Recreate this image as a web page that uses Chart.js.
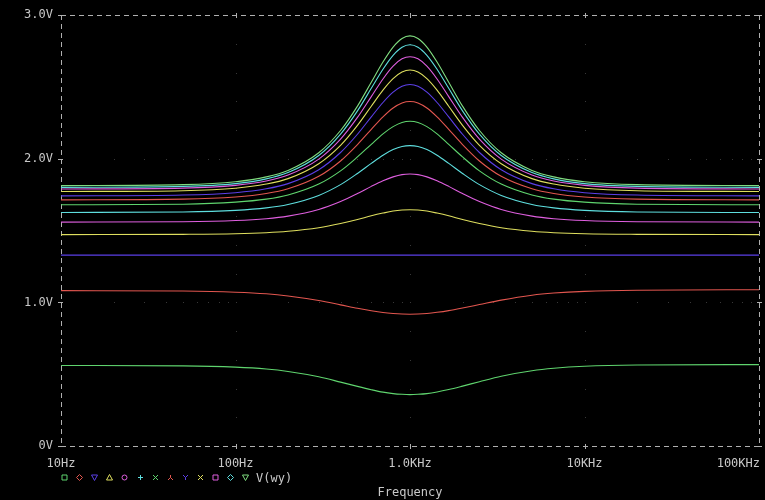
<!DOCTYPE html>
<html>
<head>
<meta charset="utf-8">
<script src="https://cdn.jsdelivr.net/npm/chart.js@4.4.1/dist/chart.umd.min.js"></script>
<style>
  html, body { margin: 0; padding: 0; background: #000; }
  #wrap { width: 765px; height: 500px; }
</style>
</head>
<body>
<div id="wrap"><canvas id="c" width="765" height="500"></canvas></div>
<script>
// ---- data ----
const freqHz = [10, 50, 100, 150, 200, 300, 400, 500, 600, 700, 800, 900, 1000,
                1111, 1250, 1429, 1667, 2000, 2500, 3333, 5000, 6667, 10000, 20000, 100000];

const tickFreqs = [10, 100, 1000, 10000, 100000];
const tickLabelsX = ['10Hz', '100Hz', '1.0KHz', '10KHz', '100KHz'];
const tickValuesY = [0, 1, 2, 3];
const tickLabelsY = ['0V', '1.0V', '2.0V', '3.0V'];
const legendLabel = 'V(wy)';
const axisTitle = 'Frequency';

const seriesColors = ['#5fd46e', '#e2564f', '#5b3fe6', '#dede5e', '#de5ede', '#5edede',
                      '#5fd46e', '#e2564f', '#5b3fe6', '#dede5e', '#de5ede', '#5edede', '#7fdc7f'];
const markerShapes = ['square', 'diamond', 'triDown', 'triUp', 'circle', 'plus', 'cross',
                      'lambda', 'ychar', 'xchar', 'square', 'diamond', 'triDown'];

const v01 = [0.561, 0.558, 0.549, 0.536, 0.519, 0.482, 0.445, 0.415, 0.392, 0.375, 0.365, 0.360, 0.358,
             0.360, 0.365, 0.376, 0.393, 0.417, 0.448, 0.486, 0.524, 0.541, 0.555, 0.564, 0.567];
const v02 = [1.082, 1.079, 1.071, 1.060, 1.045, 1.013, 0.983, 0.959, 0.942, 0.930, 0.923, 0.919, 0.918,
             0.919, 0.923, 0.931, 0.943, 0.961, 0.985, 1.016, 1.050, 1.065, 1.077, 1.085, 1.088];
const v03 = [1.329, 1.329, 1.329, 1.329, 1.329, 1.329, 1.329, 1.329, 1.329, 1.329, 1.329, 1.329, 1.329,
             1.329, 1.329, 1.329, 1.329, 1.329, 1.329, 1.329, 1.329, 1.329, 1.329, 1.329, 1.329];
const v04 = [1.472, 1.474, 1.478, 1.485, 1.495, 1.520, 1.549, 1.577, 1.603, 1.622, 1.636, 1.643, 1.645,
             1.643, 1.636, 1.622, 1.603, 1.577, 1.549, 1.520, 1.495, 1.485, 1.478, 1.474, 1.472];
const v05 = [1.559, 1.562, 1.570, 1.583, 1.601, 1.647, 1.702, 1.758, 1.808, 1.847, 1.874, 1.890, 1.894,
             1.890, 1.874, 1.847, 1.808, 1.758, 1.702, 1.647, 1.601, 1.583, 1.570, 1.562, 1.559];
const v06 = [1.626, 1.630, 1.641, 1.658, 1.682, 1.745, 1.820, 1.898, 1.968, 2.025, 2.064, 2.086, 2.092,
             2.086, 2.064, 2.025, 1.968, 1.898, 1.820, 1.745, 1.682, 1.658, 1.641, 1.630, 1.626];
const v07 = [1.680, 1.684, 1.698, 1.719, 1.748, 1.824, 1.916, 2.013, 2.101, 2.174, 2.224, 2.253, 2.261,
             2.253, 2.224, 2.174, 2.101, 2.013, 1.916, 1.824, 1.748, 1.719, 1.698, 1.684, 1.680];
const v08 = [1.714, 1.719, 1.734, 1.758, 1.791, 1.878, 1.985, 2.099, 2.205, 2.292, 2.354, 2.389, 2.399,
             2.389, 2.354, 2.292, 2.205, 2.099, 1.985, 1.878, 1.791, 1.758, 1.734, 1.719, 1.714];
const v09 = [1.742, 1.748, 1.764, 1.791, 1.827, 1.924, 2.044, 2.171, 2.292, 2.392, 2.464, 2.505, 2.517,
             2.505, 2.464, 2.392, 2.292, 2.171, 2.044, 1.924, 1.827, 1.791, 1.764, 1.748, 1.742];
const v10 = [1.772, 1.778, 1.795, 1.824, 1.862, 1.966, 2.094, 2.233, 2.366, 2.478, 2.558, 2.604, 2.618,
             2.604, 2.558, 2.478, 2.366, 2.233, 2.094, 1.966, 1.862, 1.824, 1.795, 1.778, 1.772];
const v11 = [1.790, 1.796, 1.815, 1.845, 1.887, 1.998, 2.137, 2.288, 2.433, 2.556, 2.645, 2.696, 2.711,
             2.696, 2.645, 2.556, 2.433, 2.288, 2.137, 1.998, 1.887, 1.845, 1.815, 1.796, 1.790];
const v12 = [1.801, 1.808, 1.827, 1.860, 1.904, 2.023, 2.172, 2.334, 2.491, 2.624, 2.721, 2.777, 2.794,
             2.777, 2.721, 2.624, 2.491, 2.334, 2.172, 2.023, 1.904, 1.860, 1.827, 1.808, 1.801];
const v13 = [1.813, 1.820, 1.840, 1.874, 1.919, 2.042, 2.197, 2.367, 2.533, 2.674, 2.778, 2.838, 2.856,
             2.838, 2.778, 2.674, 2.533, 2.367, 2.197, 2.042, 1.919, 1.874, 1.840, 1.820, 1.813];

const seriesValues = [v01, v02, v03, v04, v05, v06, v07, v08, v09, v10, v11, v12, v13];

// ---- chart ----
const FONT = '"DejaVu Sans Mono", "Liberation Mono", monospace';
const TEXT_COLOR = '#c8c8c8';
const FRAME_COLOR = '#b0b0b0';
const DOT_COLOR = '#383838';

function drawMarker(ctx, shape, x, y, color) {
  const r = 2.5;
  ctx.save();
  ctx.strokeStyle = color;
  ctx.lineWidth = 1;
  ctx.beginPath();
  switch (shape) {
    case 'square': ctx.rect(x - r, y - r, 2 * r, 2 * r); break;
    case 'diamond': ctx.moveTo(x, y - r - 0.5); ctx.lineTo(x + r + 0.5, y); ctx.lineTo(x, y + r + 0.5); ctx.lineTo(x - r - 0.5, y); ctx.closePath(); break;
    case 'triDown': ctx.moveTo(x - r - 0.5, y - r); ctx.lineTo(x + r + 0.5, y - r); ctx.lineTo(x, y + r + 0.5); ctx.closePath(); break;
    case 'triUp': ctx.moveTo(x - r - 0.5, y + r); ctx.lineTo(x + r + 0.5, y + r); ctx.lineTo(x, y - r - 0.5); ctx.closePath(); break;
    case 'circle': ctx.arc(x, y, r, 0, Math.PI * 2); break;
    case 'plus': ctx.moveTo(x - r, y); ctx.lineTo(x + r, y); ctx.moveTo(x, y - r); ctx.lineTo(x, y + r); break;
    case 'cross': case 'xchar': ctx.moveTo(x - r, y - r); ctx.lineTo(x + r, y + r); ctx.moveTo(x + r, y - r); ctx.lineTo(x - r, y + r); break;
    case 'lambda': ctx.moveTo(x, y - r); ctx.lineTo(x, y); ctx.lineTo(x - r, y + r); ctx.moveTo(x, y); ctx.lineTo(x + r, y + r); break;
    case 'ychar': ctx.moveTo(x - r, y - r); ctx.lineTo(x, y); ctx.lineTo(x + r, y - r); ctx.moveTo(x, y); ctx.lineTo(x, y + r); break;
  }
  ctx.stroke();
  ctx.restore();
}

const decorPlugin = {
  id: 'pspiceDecor',
  beforeDatasetsDraw(chart) {
    const ctx = chart.ctx;
    const xs = chart.scales.x, ys = chart.scales.y;
    const L = Math.round(xs.getPixelForValue(tickFreqs[0]));
    const R = Math.round(xs.getPixelForValue(tickFreqs[tickFreqs.length - 1]));
    const T = Math.round(ys.getPixelForValue(tickValuesY[tickValuesY.length - 1]));
    const B = Math.round(ys.getPixelForValue(tickValuesY[0]));
    ctx.save();
    // faint grid dots
    ctx.fillStyle = DOT_COLOR;
    for (let j = 1; j < tickValuesY.length - 1; j++) {
      const py = Math.round(ys.getPixelForValue(tickValuesY[j]));
      for (let d = 0; d < tickFreqs.length - 1; d++) {
        for (let m = 2; m <= 9; m++) {
          const px = Math.round(xs.getPixelForValue(tickFreqs[d] * m));
          ctx.fillRect(px, py, 1, 1);
        }
      }
    }
    for (let i = 1; i < tickFreqs.length - 1; i++) {
      const px = Math.round(xs.getPixelForValue(tickFreqs[i]));
      for (let k = 1; k < 15; k++) {
        const py = Math.round(ys.getPixelForValue(k * 0.2));
        ctx.fillRect(px, py, 1, 1);
      }
    }
    // dashed frame
    ctx.strokeStyle = FRAME_COLOR;
    ctx.lineWidth = 1;
    ctx.setLineDash([5, 4]);
    ctx.beginPath();
    ctx.moveTo(L, T + 0.5); ctx.lineTo(R + 1, T + 0.5);
    ctx.moveTo(L, B + 0.5); ctx.lineTo(R + 1, B + 0.5);
    ctx.moveTo(L + 0.5, T); ctx.lineTo(L + 0.5, B + 1);
    ctx.moveTo(R + 0.5, T); ctx.lineTo(R + 0.5, B + 1);
    ctx.stroke();
    // tick marks
    ctx.setLineDash([]);
    ctx.beginPath();
    for (let i = 1; i < tickFreqs.length - 1; i++) {
      const px = Math.round(xs.getPixelForValue(tickFreqs[i])) + 0.5;
      ctx.moveTo(px, B - 2); ctx.lineTo(px, B + 3);
      ctx.moveTo(px, T - 2); ctx.lineTo(px, T + 3);
    }
    for (let j = 0; j < tickValuesY.length; j++) {
      const py = Math.round(ys.getPixelForValue(tickValuesY[j])) + 0.5;
      ctx.moveTo(L - 3, py); ctx.lineTo(L + 2, py);
      ctx.moveTo(R - 2, py); ctx.lineTo(R + 3, py);
    }
    ctx.stroke();
    ctx.restore();
  },
  afterDraw(chart) {
    const ctx = chart.ctx;
    const xs = chart.scales.x;
    ctx.save();
    ctx.fillStyle = TEXT_COLOR;
    ctx.font = '12px ' + FONT;
    ctx.textBaseline = 'alphabetic';
    // x tick labels
    for (let i = 0; i < tickFreqs.length; i++) {
      const px = xs.getPixelForValue(tickFreqs[i]);
      ctx.textAlign = (i === tickFreqs.length - 1) ? 'right' : 'center';
      ctx.fillText(tickLabelsX[i], px + (i === tickFreqs.length - 1 ? 1 : 0), 467);
    }
    // legend
    const lx0 = 64, lstep = 15.1, ly = 477.5;
    for (let i = 0; i < markerShapes.length; i++) {
      drawMarker(ctx, markerShapes[i], Math.round(lx0 + i * lstep) + 0.5, ly, seriesColors[i]);
    }
    ctx.textAlign = 'left';
    ctx.fillStyle = TEXT_COLOR;
    ctx.fillText(legendLabel, 256, 482);
    // axis title
    ctx.textAlign = 'center';
    ctx.fillText(axisTitle, (chart.chartArea.left + chart.chartArea.right) / 2, 495.5);
    ctx.restore();
  }
};

const datasets = seriesValues.map((vals, i) => ({
  label: 'V(wy) ' + (i + 1),
  data: freqHz.map((f, k) => ({ x: f, y: vals[k] })),
  borderColor: seriesColors[i],
  backgroundColor: seriesColors[i],
  borderWidth: 1.1,
  pointRadius: 0,
  fill: false,
  cubicInterpolationMode: 'monotone'
}));

new Chart(document.getElementById('c'), {
  type: 'line',
  data: { datasets },
  plugins: [decorPlugin],
  options: {
    responsive: false,
    animation: false,
    devicePixelRatio: 1,
    layout: { padding: { left: 0, right: 6, top: 12, bottom: 0 } },
    plugins: { legend: { display: false }, tooltip: { enabled: false } },
    scales: {
      x: {
        type: 'logarithmic',
        min: tickFreqs[0],
        max: tickFreqs[tickFreqs.length - 1],
        ticks: { display: false },
        grid: { display: false, drawTicks: false },
        border: { display: false },
        afterFit(s) { s.height = 54; }
      },
      y: {
        type: 'linear',
        min: tickValuesY[0],
        max: tickValuesY[tickValuesY.length - 1],
        afterBuildTicks(s) { s.ticks = tickValuesY.map(v => ({ value: v })); },
        ticks: {
          padding: 8,
          color: TEXT_COLOR,
          font: { family: FONT, size: 12 },
          callback: (v, idx) => tickLabelsY[idx]
        },
        grid: { display: false, drawTicks: false },
        border: { display: false },
        afterFit(s) { s.width = 61; }
      }
    }
  }
});
</script>
</body>
</html>
